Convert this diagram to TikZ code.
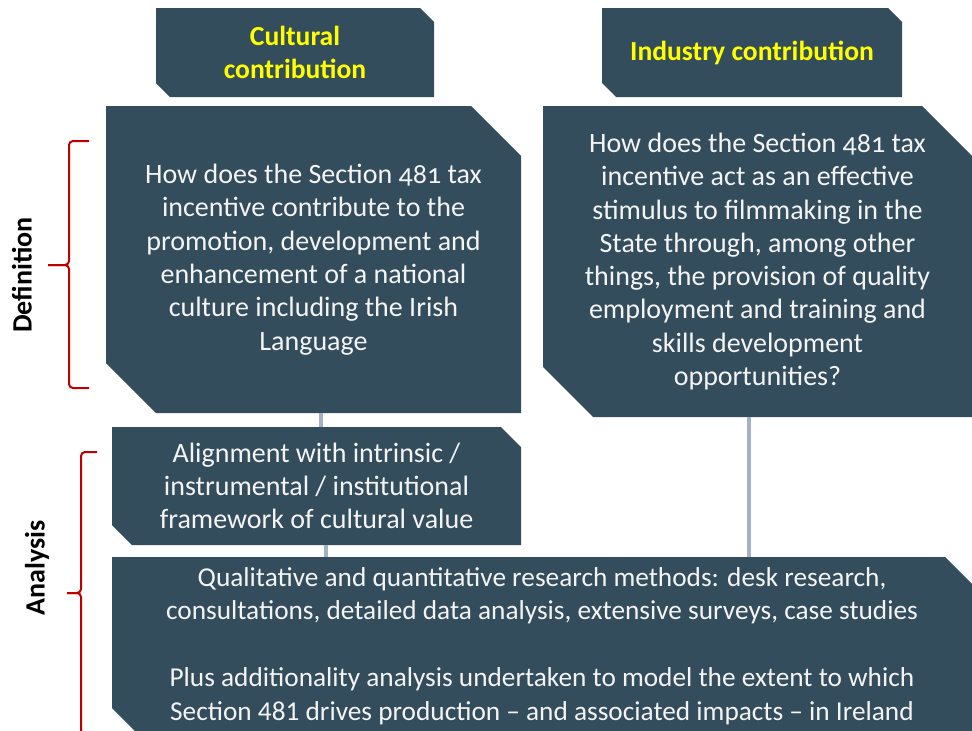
\documentclass[tikz,border=0pt]{standalone}
\usepackage{fontspec}
\setmainfont{Carlito}
\newfontfamily\oldnum{Carlito}[Numbers=OldStyle]
\usetikzlibrary{calc}

\definecolor{boxslate}{HTML}{334D5C}
\definecolor{linkgrey}{HTML}{A5B2C6}
\definecolor{bracered}{HTML}{C00000}
\definecolor{headyellow}{HTML}{FFFF00}
\definecolor{textwhite}{HTML}{F4F4F4}

\tikzset{
  cutbox/.style n args={3}{rectangle, inner sep=0pt, minimum width=#1, minimum height=#2,
    align=center, text=textwhite, font=\fontsize{28}{33.3}\selectfont,
    path picture={\fill[boxslate] (path picture bounding box.north west)
      -- ([xshift=-#3]path picture bounding box.north east)
      -- ([yshift=-#3]path picture bounding box.north east)
      -- (path picture bounding box.south east)
      -- ([xshift=#3]path picture bounding box.south west)
      -- ([yshift=#3]path picture bounding box.south west) -- cycle;}},
  headtext/.style={text=headyellow, font=\fontsize{27.6}{33}\selectfont\bfseries},
  sidelabel/.style={font=\fontsize{28}{30}\selectfont\bfseries, rotate=90},
  linkline/.style={draw=linkgrey, line width=4pt},
  bracket/.style={draw=bracered, line width=2pt, rounded corners=4pt},
}

\begin{document}
\begin{tikzpicture}[x=1pt, y=-1pt]
\useasboundingbox (0,0) rectangle (972,731);
\clip (0,0) rectangle (972,731);

%% headers
\node[cutbox={278}{89}{14pt}, headtext] (cult) at (295,52.5) {Cultural\\contribution};
\node[cutbox={300}{89}{14pt}, headtext] (indus) at (752,52.5) {Industry contribution};

%% definition boxes
\node[cutbox={415}{307}{50pt}] (culdef) at (313.5,259.5)
  {How does the Section {\oldnum 481} tax\\ incentive contribute to the\\ promotion, development and\\
   enhancement of a national\\ culture including the Irish\\ Language};
\node[cutbox={429}{311}{50pt}] (inddef) at (757.5,261.5)
  {How does the Section {\oldnum 481} tax\\ incentive act as an effective\\ stimulus to filmmaking in the\\
   State through, among other\\ things, the provision of quality\\ employment and training and\\
   skills development\\ opportunities?};

%% analysis boxes
\node[cutbox={409}{118}{20pt}] (align) at (316.5,486)
  {Alignment with intrinsic /\\ instrumental / institutional\\ framework of cultural value};
\node[cutbox={860}{178}{27pt}, font=\fontsize{27.3}{33.3}\selectfont] (methods) at (542,646)
  {Qualitative and quantitative research methods: desk research,\\
   consultations, detailed data analysis, extensive surveys, case studies\\[34pt]
   Plus additionality analysis undertaken to model the extent to which\\
   Section 481 drives production -- and associated impacts -- in Ireland};

%% links
\draw[linkline] ($(culdef.south)+(7,0)$) -- ($(culdef.south |- align.north)+(7,0)$);       %% culdef-align
\draw[linkline] ($(align.south)+(9.5,0)$) -- ($(align.south |- methods.north)+(9.5,0)$);   %% align-methods
\draw[linkline] ($(inddef.south)+(-8.5,0)$) -- ($(inddef.south |- methods.north)+(-8.5,0)$); %% inddef-methods

%% side labels
\node[sidelabel] (deflab) at (22,275) {Definition};
\node[sidelabel] (anlab) at (37,568) {Analysis};

%% brackets
\draw[bracket] (89,141) -- (69,141) -- (69,265) -- (48,265);
\draw[bracket] (48,265) -- (69,265) -- (69,388) -- (89,388);
\draw[bracket] (97,452) -- (81,452) -- (81,593) -- (67,593);
\draw[bracket] (67,593) -- (81,593) -- (81,734) -- (97,734);
\end{tikzpicture}
\end{document}
